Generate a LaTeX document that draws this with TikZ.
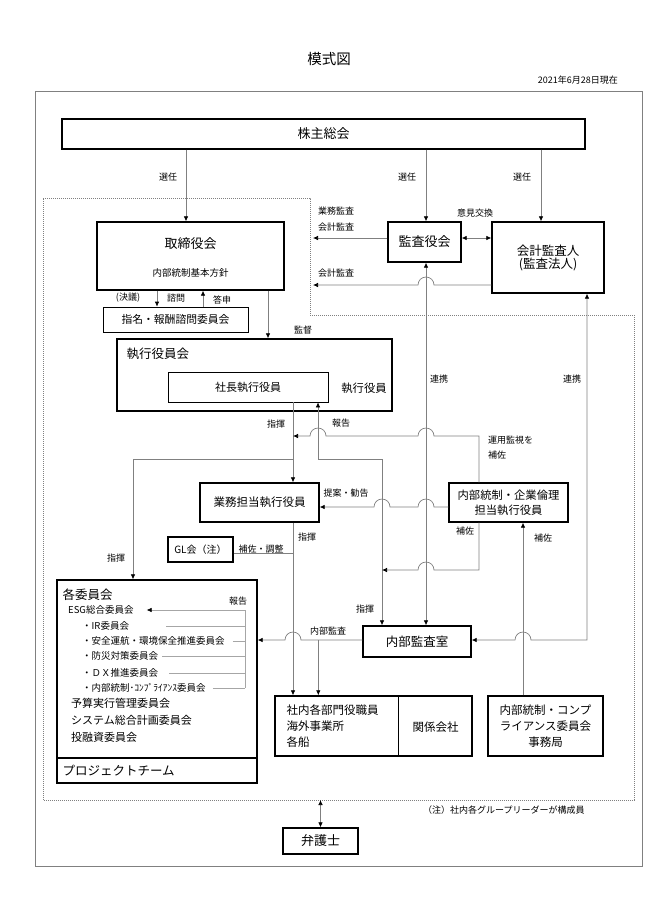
\documentclass[tikz,border=0pt]{standalone}
\usepackage{fontspec}
\setmainfont{Noto Sans CJK JP}
\usetikzlibrary{arrows.meta}

\tikzset{
  box/.style={draw, line width=1.4pt, fill=white, inner sep=0pt},
  thinbox/.style={draw, line width=0.7pt, fill=white, inner sep=0pt},
  conn/.style={draw=gray, line width=0.7pt},
  replin/.style={draw=gray!70, line width=0.5pt},
  lbl/.style={font=\fontsize{9}{9}\selectfont, inner sep=0pt},
  item/.style={anchor=west, inner sep=0pt, font=\fontsize{9.5}{10}\selectfont},
  hopl/.style={insert path={arc[start angle=0,end angle=180,radius=8pt]}},
  >={Latex[length=5pt,width=4.5pt,color=black]},
}

\begin{document}
\begin{tikzpicture}[x=1pt,y=-1pt]
\useasboundingbox (0,0) rectangle (649,918);

% title and date
\node[font=\fontsize{14.5}{15}\selectfont] (title) at (329,59) {模式図};
\node[lbl, anchor=east] (date) at (618,80) {2021年6月28日現在};

% outer frame and dotted area
\draw[gray, line width=0.9pt] (35,91) rectangle (642,866);
\draw[gray, line width=0.6pt, dash pattern=on 1pt off 1pt]
  (43,198) -- (310,198) -- (310,315) -- (634,315) -- (634,800) -- (43,800) -- cycle;

% boxes
\node[box, minimum width=523pt, minimum height=30pt, font=\fontsize{13}{13}\selectfont] (kabunushi) at (323.5,134) {株主総会};

\node[box, minimum width=187pt, minimum height=68pt] (torishimari) at (190.5,256) {};
\node[font=\fontsize{13}{13}\selectfont] (torishimari-t) at (190.5,244) {取締役会};
\node[font=\fontsize{9.5}{10}\selectfont] (kihon) at (190.5,273) {内部統制基本方針};

\node[box, minimum width=73pt, minimum height=40pt, font=\fontsize{13}{13}\selectfont] (kansayaku) at (424.5,242) {監査役会};
\node[box, minimum width=112pt, minimum height=71pt, align=center, font=\fontsize{12.5}{13}\selectfont] (kaikei) at (548,257.5) {会計監査人\\(監査法人)};

\node[thinbox, minimum width=145pt, minimum height=25pt, font=\fontsize{10.8}{11}\selectfont] (shimei) at (175.5,319.5) {指名・報酬諮問委員会};

\node[box, minimum width=275pt, minimum height=72pt] (shikko) at (254.5,375) {};
\node[anchor=west, font=\fontsize{12.5}{13}\selectfont] (shikko-t) at (123,354) {執行役員会};
\node[thinbox, minimum width=160pt, minimum height=30pt, font=\fontsize{11}{11}\selectfont] (shacho) at (248,387) {社長執行役員};
\node[font=\fontsize{11.3}{12}\selectfont] (yakuin) at (364,388) {執行役員};

\node[box, minimum width=119pt, minimum height=39pt, font=\fontsize{11.5}{12}\selectfont] (gyomu) at (259.5,502.5) {業務担当執行役員};
\node[box, minimum width=119pt, minimum height=39pt, align=center, font=\fontsize{11.3}{15}\selectfont] (naibu) at (508.5,502.5) {内部統制・企業倫理\\担当執行役員};

\node[box, minimum width=65pt, minimum height=25pt, font=\fontsize{10}{10}\selectfont] (gl) at (200.5,549.5) {GL会（注）};

\node[box, minimum width=200pt, minimum height=178pt] (iinkai) at (157,669) {};
\node[box, minimum width=200pt, minimum height=25pt] (pt) at (157,770.5) {};
\node[anchor=west, font=\fontsize{12.5}{13}\selectfont] (pt-t) at (59,771) {プロジェクトチーム};

\node[anchor=west, font=\fontsize{12.5}{13}\selectfont] (kakuiinkai) at (59,595) {各委員会};
\node[item] (esg) at (68,610) {ESG総合委員会};
\node[item] (ir) at (82,626) {・IR委員会};
\node[item] (anzen) at (82,641) {・安全運航・環境保全推進委員会};
\node[item] (bosai) at (82,656) {・防災対策委員会};
\node[item] (dx) at (82,673) {・ＤＸ推進委員会};
\node[item] (naito) at (82,688) {・内部統制･ｺﾝﾌﾟﾗｲｱﾝｽ委員会};
\node[item, font=\fontsize{11}{11}\selectfont] (yosan) at (71,703) {予算実行管理委員会};
\node[item, font=\fontsize{11}{11}\selectfont] (system) at (71,720) {システム総合計画委員会};
\node[item, font=\fontsize{11}{11}\selectfont] (toyushi) at (71,737) {投融資委員会};

\node[box, minimum width=108pt, minimum height=31pt, font=\fontsize{12.5}{13}\selectfont] (kansashitsu) at (417,641.5) {内部監査室};

\node[box, minimum width=197pt, minimum height=60pt] (shanai) at (373.5,726) {};
\draw[line width=0.7pt] ([xshift=124pt]shanai.north west) -- ([xshift=124pt]shanai.south west);
\node[anchor=west, align=left, font=\fontsize{11.5}{16}\selectfont] (shanai-t) at (283,726) {社内各部門役職員\\海外事業所\\各船};
\node[font=\fontsize{11.5}{12}\selectfont] (kankei) at (435.5,727) {関係会社};

\node[box, minimum width=115pt, minimum height=60pt, align=center, font=\fontsize{11.5}{16}\selectfont] (jimukyoku) at (545.5,726) {内部統制・コンプ\\ライアンス委員会\\事務局};

\node[box, minimum width=75pt, minimum height=26pt, font=\fontsize{13}{13}\selectfont] (bengoshi) at (320.5,841) {弁護士};

% rows and columns of the connectors
\coordinate (rowA) at (0,436);
\coordinate (rowB) at (0,459);
\coordinate (rowC) at (0,507);
\coordinate (rowD) at (0,570);
\coordinate (rowE) at (0,640);
\coordinate (rowF) at (0,553);
\coordinate (waku) at (0,800);
\coordinate (colK) at ([xshift=1.5pt]kansayaku.south);
\coordinate (colS) at ([xshift=70pt]shacho.south);
\coordinate (colG) at ([xshift=45pt]shacho.south);
\coordinate (colX) at ([xshift=-35pt]kansashitsu.north);
\coordinate (colJ) at ([xshift=14.5pt]naibu.south);
\coordinate (colN) at ([xshift=-29.5pt]naibu.south);
\coordinate (gkansa) at (313,238);
\coordinate (kkansa) at (313,285);
\coordinate (rep) at (245,610);

% 選任
\draw[conn,->] ([xshift=-4.5pt]torishimari.north |- kabunushi.south) -- ([xshift=-4.5pt]torishimari.north);
\draw[conn,->] (colK |- kabunushi.south) -- (colK |- kansayaku.north);
\draw[conn,->] ([xshift=-7pt]kaikei.north |- kabunushi.south) -- ([xshift=-7pt]kaikei.north);
\node[lbl] (senin1) at (168,177) {選任};
\node[lbl] (senin2) at (407,177) {選任};
\node[lbl] (senin3) at (522,177) {選任};

% audit lines at the top
\draw[conn,<->] ([yshift=4pt]kansayaku.east) -- ([yshift=4pt]kansayaku.east -| kaikei.west);
\draw[conn,->] ([yshift=4pt]kansayaku.west) -- (gkansa);
\draw[conn,->] (kaikei.west |- kkansa) -- ([xshift=8pt]colK |- kkansa) [hopl] -- (kkansa);
\node[lbl] (iken) at (475,213) {意見交換};
\node[lbl] (gyomukansa) at (336,211) {業務監査};
\node[lbl] (kaikeikansa1) at (336,227) {会計監査};
\node[lbl] (kaikeikansa2) at (336,273) {会計監査};

% board and committees
\draw[conn,->] ([xshift=77.5pt]torishimari.south) -- ([xshift=77.5pt]torishimari.south |- shikko.north);
\draw[conn,->] ([xshift=-18.5pt]shimei.north |- torishimari.south) -- ([xshift=-18.5pt]shimei.north);
\draw[conn,->] ([xshift=27.5pt]shimei.north) -- ([xshift=27.5pt]shimei.north |- torishimari.south);
\node[lbl] (ketsugi) at (128,298) {(決議)};
\node[lbl] (shimon) at (176,298) {諮問};
\node[lbl] (toshin) at (222,300) {答申};
\node[lbl] (kantoku) at (303,330) {監督};

% executive lines
\draw[conn,->] (colG |- shacho.south) -- (colG |- gyomu.north);
\draw[conn,<->] (colS) |- (colX |- rowB) -- (colX |- kansashitsu.north);
\draw[conn,->] (colG |- rowB) -| ([xshift=-24pt]iinkai.north);
\draw[conn,->] (colN |- naibu.north) |- ([xshift=8pt]colK |- rowA) [hopl] -- ([xshift=8pt]colS |- rowA) [hopl] -- (colG |- rowA);
\draw[conn,->] (colN |- naibu.south) |- ([xshift=8pt]colK |- rowD) [hopl] -- (colX |- rowD);
\draw[conn,->] (naibu.west |- rowC) -- ([xshift=8pt]colK |- rowC) [hopl] -- ([xshift=8pt]colX |- rowC) [hopl] -- (gyomu.east |- rowC);
\draw[conn,->] (colJ |- jimukyoku.north) -- (colJ);
\node[lbl] (shiki1) at (276,424) {指揮};
\node[lbl] (hokoku1) at (341,423) {報告};
\node[lbl, anchor=west, align=left, font=\fontsize{9}{15}\selectfont] (unyo) at (488,447.5) {運用監視を\\補佐};
\node[lbl] (teian) at (346,493) {提案・勧告};
\node[lbl] (hosa1) at (465,531) {補佐};
\node[lbl] (hosa2) at (543,538) {補佐};
\node[lbl] (shiki2) at (307,537) {指揮};
\node[lbl] (shiki3) at (116,558) {指揮};
\node[lbl] (shiki4) at (365,609) {指揮};

% 連携
\draw[conn,<->] (colK) -- (colK |- kansashitsu.north);
\draw[conn,<->] ([xshift=39pt]kaikei.south) |- ([xshift=8pt]colJ |- rowE) [hopl] -- (kansashitsu.east |- rowE);
\node[lbl] (renkei1) at (439,379) {連携};
\node[lbl] (renkei2) at (572,379) {連携};

% lower part
\draw[conn,->] (colG |- gyomu.south) -- (colG |- shanai.north);
\draw[conn] (gl.east |- rowF) -- (colG |- rowF);
\draw[conn,->] (kansashitsu.west |- rowE) -- ([xshift=8pt]colG |- rowE) [hopl] -- (iinkai.east |- rowE);
\draw[conn,->] ([xshift=44pt]shanai.north west |- rowE) -- ([xshift=44pt]shanai.north west);
\node[lbl] (hosachosei) at (261,549) {補佐・調整};
\node[lbl] (naibukansa) at (328,631) {内部監査};

% reports inside the committees
\draw[replin,->] (rep) -- ([xshift=13pt]esg.east);
\draw[replin] (rep) -- (rep |- naito);
\foreach \n/\s in {ir/37,anzen/8,bosai/4,dx/11,naito/7}
  \draw[replin] ([xshift=\s pt]\n.east) -- (\n.east -| rep);
\node[lbl] (hokoku2) at (238,601) {報告};

% lawyer
\draw[conn,<->] (bengoshi.north) -- (bengoshi.north |- waku);
\node[lbl, anchor=west] (chu) at (423,810) {（注）社内各グループリーダーが構成員};

\end{tikzpicture}
\end{document}
